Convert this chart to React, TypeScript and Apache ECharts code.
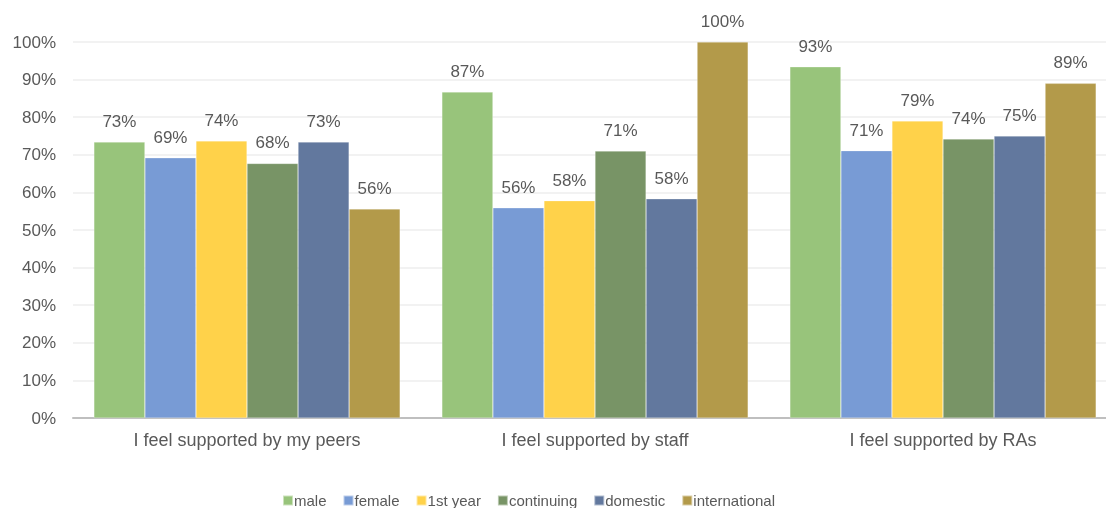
import React, { useEffect, useRef } from "react";
import * as echarts from "echarts";

const categories = ["I feel supported by my peers", "I feel supported by staff", "I feel supported by RAs"];
const seriesNames = ["male", "female", "1st year", "continuing", "domestic", "international"];
const male = [73.4, 86.7, 93.4];
const female = [69.2, 55.9, 71.1];
const firstYear = [73.7, 57.8, 79.0];
const continuing = [67.7, 71.0, 74.2];
const domestic = [73.4, 58.3, 75.0];
const international = [55.6, 100, 89.0];
const seriesValues = [male, female, firstYear, continuing, domestic, international];
const colors = ["#98C47B", "#789BD5", "#FFD24A", "#789466", "#62789E", "#B39A4A"];
const yTicks = [0, 10, 20, 30, 40, 50, 60, 70, 80, 90, 100];

export default function App() {
  const ref = useRef<HTMLDivElement>(null);
  useEffect(() => {
    const chart = echarts.init(ref.current!, null, { renderer: "svg" });
    chart.setOption({
      animation: false,
      textStyle: { fontFamily: "Liberation Sans, Arial, sans-serif" },
      legend: {
        data: seriesNames,
        left: 277,
        top: 488,
        itemWidth: 10,
        itemHeight: 10,
        itemGap: 16,
        icon: "rect",
        textStyle: { color: "#595959", fontSize: 15, padding: [0, 0, 0, -4] },
      },
      grid: { left: 73, top: 42, right: 3, height: 376, containLabel: false },
      xAxis: {
        type: "category",
        data: categories,
        axisLine: { lineStyle: { color: "#BFBFBF", width: 2 } },
        axisTick: { show: false },
        axisLabel: { color: "#595959", fontSize: 18, margin: 13 },
      },
      yAxis: {
        type: "value",
        min: yTicks[0],
        max: yTicks[yTicks.length - 1],
        interval: 10,
        axisLine: { show: false },
        axisTick: { show: false },
        splitLine: { lineStyle: { color: "#EEEEEE", width: 1.5 } },
        axisLabel: { color: "#595959", fontSize: 17, margin: 17, formatter: (v: number) => v + "%" },
      },
      series: seriesNames.map((name, i) => ({
        name,
        type: "bar",
        data: seriesValues[i],
        barGap: "0%",
        barCategoryGap: "12%",
        itemStyle: { color: colors[i], borderColor: "rgba(255,255,255,0.5)", borderWidth: 0.5 },
        label: {
          show: true,
          position: "top",
          distance: 12,
          color: "#595959",
          fontSize: 17,
          formatter: (p: any) => Math.round(p.value) + "%",
        },
      })),
    });
    return () => chart.dispose();
  }, []);
  return (
    <div style={{ position: "fixed", left: 0, top: 0, width: 1106, height: 508, overflow: "hidden" }}>
      <div ref={ref} style={{ width: 1120, height: 508 }} />
    </div>
  );
}
